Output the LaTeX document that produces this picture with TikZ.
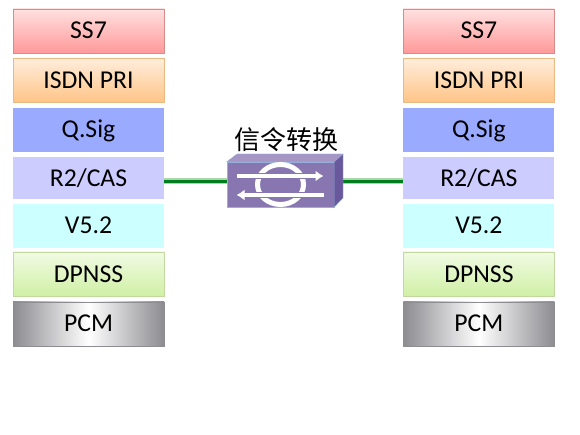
\documentclass[tikz,border=0pt]{standalone}
\usepackage{xcolor}
\usepackage{fontspec}
\setmainfont{Carlito}
\newfontfamily\cjkfont{Noto Sans CJK SC}
\usepackage{tikz}
\usetikzlibrary{arrows.meta,positioning,calc}
\definecolor{ssred}{RGB}{255,153,153}
\definecolor{ssedge}{RGB}{215,140,140}
\definecolor{isdnorange}{RGB}{255,196,135}
\definecolor{isdnedge}{RGB}{235,185,130}
\definecolor{qsigblue}{RGB}{153,170,255}
\definecolor{rlilac}{RGB}{204,204,255}
\definecolor{vcyan}{RGB}{204,255,255}
\definecolor{dpgreen}{RGB}{208,240,165}
\definecolor{dpedge}{RGB}{195,215,160}
\definecolor{pcmgray}{RGB}{140,140,145}
\definecolor{linkgreen}{RGB}{0,125,30}
\definecolor{linklight}{RGB}{170,215,170}
\definecolor{swfront}{RGB}{135,118,175}
\definecolor{swtop}{RGB}{165,150,195}
\definecolor{swside}{RGB}{105,88,155}
\definecolor{swedge}{RGB}{150,175,220}

\begin{document}
\begin{tikzpicture}[
    x=1pt, y=-1pt,
    layer/.style={rectangle, minimum width=151pt, minimum height=44pt, inner sep=0pt,
                  align=center, text height=16pt, text depth=0pt,
                  font=\fontsize{25.7}{30}\selectfont},
    ssbox/.style={layer, draw=ssedge, top color=ssred!30, bottom color=ssred},
    isdnbox/.style={layer, draw=isdnedge, top color=isdnorange!30, bottom color=isdnorange},
    qsigbox/.style={layer, fill=qsigblue},
    rbox/.style={layer, fill=rlilac, minimum height=42pt},
    vbox/.style={layer, fill=vcyan},
    dpbox/.style={layer, draw=dpedge, top color=dpgreen!30, bottom color=dpgreen},
    pcmbox/.style={layer, draw=pcmgray, left color=pcmgray, right color=pcmgray, middle color=white},
    link/.style={line width=6pt, linklight},
    linkcore/.style={line width=3pt, linkgreen, yshift=-1.5pt},
    ring/.style={draw=white, line width=5pt},
    flow/.style={-{Latex[length=8pt,width=11pt]}, white, line width=4pt},
    flowgap/.style={swfront, line width=6pt},
]
    \useasboundingbox (0,0) rectangle (580,435);

    % left column
    \node[ssbox] at (88.5,31) (ssL) {SS7};
    \node[isdnbox, below=5pt of ssL] (isdnL) {ISDN PRI};
    \node[qsigbox, below=5pt of isdnL] (qsigL) {Q.Sig};
    \node[rbox, below=5pt of qsigL] (rL) {R2/CAS};
    \node[vbox, below=4pt of rL] (vL) {V5.2};
    \node[dpbox, below=4pt of vL] (dpL) {DPNSS};
    \node[pcmbox, below=5.5pt of dpL] (pcmL) {PCM};

    % right column
    \node[ssbox, right=239pt of ssL] (ssR) {SS7};
    \node[isdnbox, below=5pt of ssR] (isdnR) {ISDN PRI};
    \node[qsigbox, below=5pt of isdnR] (qsigR) {Q.Sig};
    \node[rbox, below=5pt of qsigR] (rR) {R2/CAS};
    \node[vbox, below=4pt of rR] (vR) {V5.2};
    \node[dpbox, below=4pt of vR] (dpR) {DPNSS};
    \node[pcmbox, below=5.5pt of dpR] (pcmR) {PCM};

    % green links
    \coordinate (linkL) at ($(rL.east)+(0,3)$);
    \coordinate (linkR) at ($(rR.west)+(0,3)$);
    \coordinate (swback) at (343,198);
    \draw[link] (linkL) -- (linkL -| swback);
    \draw[linkcore] (linkL) -- (linkL -| swback);
    \draw[link] (linkL -| swback) -- (linkR);
    \draw[linkcore] (linkL -| swback) -- (linkR);

    % switch
    \node[rectangle, draw=swedge, fill=swfront, minimum width=107pt, minimum height=45pt,
          inner sep=0pt] at (280.5,184.5) (sw) {};
    \draw[swedge, fill=swtop] (sw.north west) -- (sw.north east) -- (343,154) -- (237,154) -- cycle;
    \draw[swedge, fill=swside] (sw.north east) -- (343,154) -- (swback) -- (sw.south east) -- cycle;
    \node[font=\cjkfont\fontsize{26}{30}\selectfont, above=7pt of sw.north, xshift=6pt] (title) {信令转换};

    \draw[ring] (sw.center) ellipse[x radius=23pt, y radius=20pt];
    \draw[flowgap] ($(sw.center)+(-44,-8.5)$) -- ($(sw.center)+(42,-8.5)$);
    \draw[flowgap] ($(sw.center)+(42,10.5)$) -- ($(sw.center)+(-44,10.5)$);
    \draw[flow] ($(sw.center)+(-44,-8.5)$) -- ($(sw.center)+(43,-8.5)$);
    \draw[flow] ($(sw.center)+(43,10.5)$) -- ($(sw.center)+(-44,10.5)$);
\end{tikzpicture}
\end{document}
